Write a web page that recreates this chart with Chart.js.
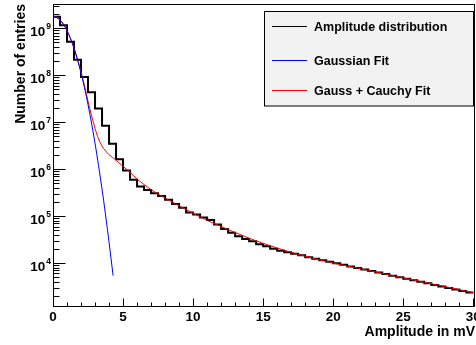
<!DOCTYPE html>
<html><head><meta charset="utf-8">
<script src="https://cdn.jsdelivr.net/npm/chart.js@4.4.1/dist/chart.umd.min.js"></script>
<style>html,body{margin:0;padding:0;background:#fff}canvas{display:block}</style>
</head><body>
<canvas id="c" width="476" height="345"></canvas>
<script>
// ---- data ----
const binEdges = [0,0.5,1,1.5,2,2.5,3,3.5,4,4.5,5,5.5,6,6.5,7,7.5,8,8.5,9,9.5,10,10.5,11,11.5,12,12.5,13,13.5,14,14.5,15,15.5,16,16.5,17,17.5,18,18.5,19,19.5,20,20.5,21,21.5,22,22.5,23,23.5,24,24.5,25,25.5,26,26.5,27,27.5,28,28.5,29,29.5,30];
const counts = [1.77e9,1.16e9,5.2e8,2.15e8,9.2e7,4.35e7,1.95e7,8.4e6,3.5e6,1.63e6,
  9.4e5,5.94e5,4.27e5,3.6e5,3.07e5,2.67e5,2.22e5,1.82e5,1.5e5,1.2e5,
  1.08e5,9.4e4,8.3e4,6.6e4,5.3e4,4.44e4,3.74e4,3.26e4,2.9e4,2.52e4,
  2.29e4,2.02e4,1.83e4,1.70e4,1.58e4,1.47e4,1.33e4,1.24e4,1.15e4,1.07e4,
  9.9e3,9.2e3,8.5e3,7.9e3,7.3e3,6.8e3,6.3e3,5.85e3,5.4e3,5.0e3,
  4.65e3,4.3e3,4.0e3,3.7e3,3.43e3,3.18e3,2.95e3,2.73e3,2.53e3,2.35e3];
const gaussX = [0,0.25,0.5,0.75,1,1.25,1.5,1.75,2,2.25,2.5,2.75,3,3.25,3.5,3.75,4,4.29];
const gaussY = [1.78e9,1.70e9,1.50e9,1.21e9,8.9e8,6.0e8,3.76e8,2.14e8,1.12e8,5.4e7,2.37e7,9.6e6,3.55e6,1.2e6,3.76e5,1.07e5,2.8e4,5.4e3];
const fitX = [0,0.25,0.5,0.75,1,1.25,1.5,1.75,2,2.25,2.5,2.75,3,3.25,3.5,3.75,4,4.5,5,5.5,6,6.5,7,7.5,8,9,10,11,12,13,14,15,16,17,18,19,20,22,24,26,28,30.12];
const fitY = [1.79e9,1.71e9,1.51e9,1.22e9,9.0e8,6.1e8,3.8e8,2.2e8,1.17e8,6.0e7,2.8e7,1.4e7,7.4e6,4.4e6,3.1e6,2.45e6,2.04e6,1.55e6,1.15e6,8.6e5,6.2e5,4.7e5,3.67e5,2.95e5,2.43e5,1.66e5,1.15e5,8.1e4,6.0e4,4.47e4,3.39e4,2.63e4,2.09e4,1.70e4,1.40e4,1.17e4,1.0e4,7.5e3,5.6e3,4.2e3,3.15e3,2.3e3];
const xMajorTicks = [0,5,10,15,20,25,30];
const xTickLabels = ['0','5','10','15','20','25','30'];
const xMinorTicks = [1,2,3,4,6,7,8,9,11,12,13,14,16,17,18,19,21,22,23,24,26,27,28,29];
const yMajorTicks = [1e4,1e5,1e6,1e7,1e8,1e9];
const yTickExponents = ['4','5','6','7','8','9'];
const yMinorFactors = [2,3,4,5,6,7,8,9];
const yDecades = [1e3,1e4,1e5,1e6,1e7,1e8,1e9];
const seriesNames = ['Amplitude distribution','Gaussian Fit','Gauss + Cauchy Fit'];
const seriesColors = ['#000000','#0000ff','#ff0000'];
const xTitle = 'Amplitude in mV';
const yTitle = 'Number of entries';

const FONT = '"Liberation Sans", Arial, Helvetica, sans-serif';

const histPts = binEdges.map((x,i)=>({x:x, y:counts[Math.min(i,counts.length-1)]}));
const gaussPts = gaussX.map((x,i)=>({x:x, y:gaussY[i]}));
const fitPts = fitX.map((x,i)=>({x:x, y:fitY[i]}));

const decor = {
  id:'decor',
  beforeDraw(chart){
    const c = chart.ctx;
    c.save(); c.fillStyle='#fff'; c.fillRect(0,0,chart.width,chart.height); c.restore();
  },
  afterDraw(chart){
    const c = chart.ctx, xs = chart.scales.x, ys = chart.scales.y, a = chart.chartArea;
    const L = Math.round(a.left)+0.5, R = Math.round(a.right)-0.5, T = Math.round(a.top)+0.5, B = Math.round(a.bottom)-0.5;
    c.save();
    c.strokeStyle='#000'; c.lineWidth=1;
    c.strokeRect(L, T, R-L, B-T);
    // x ticks
    c.beginPath();
    xMajorTicks.forEach(v=>{ const px=Math.round(xs.getPixelForValue(v))+0.5; c.moveTo(px,B); c.lineTo(px,B-8); });
    xMinorTicks.forEach(v=>{ const px=Math.round(xs.getPixelForValue(v))+0.5; c.moveTo(px,B); c.lineTo(px,B-4); });
    // y ticks
    yDecades.forEach(d=>{
      [1].concat(yMinorFactors).forEach(m=>{
        const v=d*m; if(v<ys.min||v>ys.max) return;
        const py=Math.round(ys.getPixelForValue(v))+0.5;
        c.moveTo(L,py); c.lineTo(L+(m===1?12:6),py);
      });
    });
    c.stroke();
    // x labels
    c.fillStyle='#000';
    c.font='bold 13.5px '+FONT; c.textAlign='center'; c.textBaseline='alphabetic';
    xMajorTicks.forEach((v,i)=>{ c.fillText(xTickLabels[i], xs.getPixelForValue(v), 321); });
    // y labels
    yMajorTicks.forEach((v,i)=>{
      const py=ys.getPixelForValue(v);
      c.textAlign='right';
      c.font='bold 8.5px '+FONT;
      const ew=c.measureText(yTickExponents[i]).width;
      c.fillText(yTickExponents[i], 51, py+0.5);
      c.font='bold 13.5px '+FONT;
      c.fillText('10', 51-ew-1, py+8);
    });
    // titles
    c.font='bold 14px '+FONT; c.textAlign='right';
    c.fillText(xTitle, 475, 336);
    c.save(); c.translate(24.5, 4); c.rotate(-Math.PI/2); c.textAlign='right'; c.fillText(yTitle, 0, 0); c.restore();
    // legend
    c.fillStyle='#f2f2f2'; c.fillRect(264.5,11.5,209,94.5);
    c.strokeStyle='#000'; c.strokeRect(264.5,11.5,209,94.5);
    const rows=[26,60,90];
    rows.forEach((ry,i)=>{
      c.strokeStyle=seriesColors[i]; c.lineWidth=1;
      c.beginPath(); c.moveTo(272,ry+0.5); c.lineTo(307,ry+0.5); c.stroke();
      c.fillStyle='#000'; c.font='bold 12.5px '+FONT; c.textAlign='left';
      c.fillText(seriesNames[i], 314, ry+4.5);
    });
    c.restore();
  }
};

new Chart(document.getElementById('c'), {
  type:'line',
  data:{ datasets:[
    {label:seriesNames[1], data:gaussPts, borderColor:seriesColors[1], borderWidth:1, pointRadius:0, cubicInterpolationMode:'monotone', fill:false},
    {label:seriesNames[2], data:fitPts, borderColor:seriesColors[2], borderWidth:1, pointRadius:0, cubicInterpolationMode:'monotone', fill:false},
    {label:seriesNames[0], data:histPts, borderColor:seriesColors[0], borderWidth:2, pointRadius:0, stepped:'before', fill:false}
  ]},
  options:{
    responsive:false, devicePixelRatio:1, animation:false,
    layout:{padding:{left:53, right:1, top:4, bottom:38}},
    plugins:{legend:{display:false}, tooltip:{enabled:false}},
    scales:{
      x:{type:'linear', min:0, max:30.12, display:false},
      y:{type:'logarithmic', min:1160, max:3.3e9, display:false}
    }
  },
  plugins:[decor]
});
</script>
</body></html>
